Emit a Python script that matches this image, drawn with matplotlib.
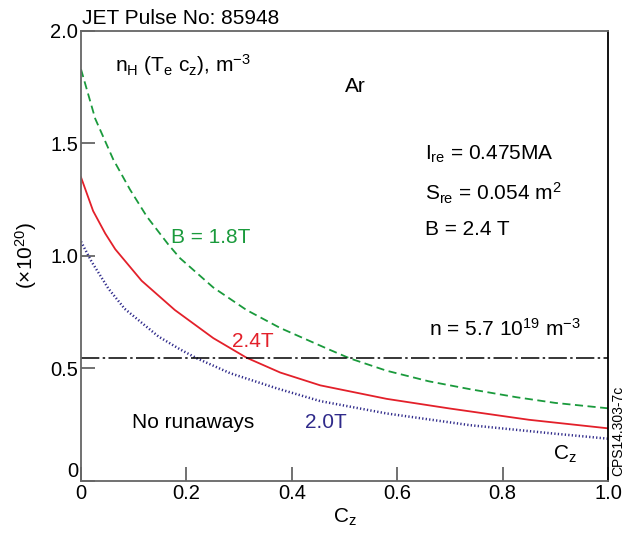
import matplotlib
matplotlib.use('Agg')
from matplotlib import pyplot as plt

plt.rcParams['font.family'] = ['Liberation Sans', 'DejaVu Sans']
plt.rcParams['mathtext.fontset'] = 'custom'
plt.rcParams['mathtext.rm'] = 'Liberation Sans'
plt.rcParams['mathtext.it'] = 'Liberation Sans'

# curves (x = C_z, y in units of 1e20 m^-3)
cz_18 = [0.0, 0.027, 0.061, 0.093, 0.125, 0.166, 0.188, 0.251, 0.314, 0.378, 0.472, 0.51, 0.58, 0.66, 0.738, 0.827, 0.9, 1.0]
b18 = [1.83, 1.61, 1.43, 1.295, 1.175, 1.05, 0.99, 0.86, 0.76, 0.68, 0.583, 0.545, 0.49, 0.443, 0.408, 0.372, 0.347, 0.323]
cz_24 = [0.0, 0.023, 0.046, 0.065, 0.115, 0.178, 0.251, 0.314, 0.378, 0.454, 0.58, 0.70, 0.85, 1.0]
b24 = [1.35, 1.20, 1.10, 1.03, 0.89, 0.76, 0.635, 0.548, 0.482, 0.425, 0.365, 0.322, 0.272, 0.234]
cz_20 = [0.0, 0.02, 0.052, 0.083, 0.147, 0.188, 0.22, 0.283, 0.371, 0.454, 0.58, 0.738, 0.9, 1.0]
b20 = [1.064, 0.975, 0.855, 0.765, 0.642, 0.585, 0.545, 0.479, 0.412, 0.355, 0.30, 0.248, 0.21, 0.188]
n_crit = 0.545

x_ticks = [0, 0.2, 0.4, 0.6, 0.8, 1.0]
x_labels = ['0', '0.2', '0.4', '0.6', '0.8', '1.0']
y_ticks = [0, 0.5, 1.0, 1.5, 2.0]
y_labels = ['0', '0.5', '1.0', '1.5', '2.0']

green = '#1a9a3c'
red = '#e3202a'
blue = '#2f2a8a'

fig = plt.figure(figsize=(6.26, 5.33), dpi=100)
ax = fig.add_axes([0.1294, 0.0976, 0.8418, 0.8443])

ax.plot(cz_18, b18, color=green, lw=1.3, ls=(0, (4.5, 2.5)))
ax.plot(cz_24, b24, color=red, lw=1.3)
ax.plot(cz_20, b20, color=blue, lw=1.8, ls=(0, (0.5, 0.9)))
ax.axhline(n_crit, color='black', lw=1.1, ls=(0, (12, 2.2, 1.6, 2.2)))

ax.set_xlim(0, 1.0)
ax.set_ylim(0, 2.0)
ax.set_xticks(x_ticks)
ax.set_xticklabels(x_labels)
ax.set_yticks(y_ticks)
ax.set_yticklabels(y_labels)
ax.tick_params(direction='in', length=10, width=1.3, color='#666666', labelsize=14.5, pad=2)
# the "0" on the y axis sits a little above the corner
ax.get_yticklabels()[0].set_va('bottom')
for s in ['left', 'bottom', 'top']:
    ax.spines[s].set_color('#666666')
    ax.spines[s].set_linewidth(1.3)
ax.spines['right'].set_color('black')
ax.spines['right'].set_linewidth(1.3)

ax.set_xlabel('C$_\\mathrm{z}$', fontsize=15, labelpad=3)
ax.set_ylabel('(\u00d710$^{20}$)', fontsize=15, labelpad=8)

fs = 15
ax.text(0.002, 1.006, 'JET Pulse No: 85948', transform=ax.transAxes, fontsize=15, va='bottom', ha='left')
ax.text(0.065, 1.82, 'n$_\\mathrm{H}$ (T$_\\mathrm{e}$ c$_\\mathrm{z}$), m$^{-3}$', fontsize=fs, va='baseline')
ax.text(0.50, 1.73, 'Ar', fontsize=fs, va='baseline')
ax.text(0.653, 1.43, 'I$_\\mathrm{re}$ = 0.475MA', fontsize=fs, va='baseline')
ax.text(0.653, 1.245, 'S$_\\mathrm{re}$ = 0.054 m$^2$', fontsize=fs, va='baseline')
ax.text(0.653, 1.093, 'B = 2.4 T', fontsize=fs, va='baseline')
ax.text(0.66, 0.645, 'n = 5.7 10$^{19}$ m$^{-3}$', fontsize=fs, va='baseline')
ax.text(0.170, 1.059, 'B = 1.8T', fontsize=fs, va='baseline', color=green)
ax.text(0.286, 0.594, '2.4T', fontsize=fs, va='baseline', color=red)
ax.text(0.425, 0.236, '2.0T', fontsize=fs, va='baseline', color=blue)
ax.text(0.097, 0.236, 'No runaways', fontsize=fs, va='baseline')
ax.text(0.896, 0.093, 'C$_\\mathrm{z}$', fontsize=fs, va='baseline')
fig.text(0.987, 0.107, 'CPS14.303-7c', fontsize=10, rotation=90, ha='center', va='bottom')

fig.savefig('out.png', dpi=100)
